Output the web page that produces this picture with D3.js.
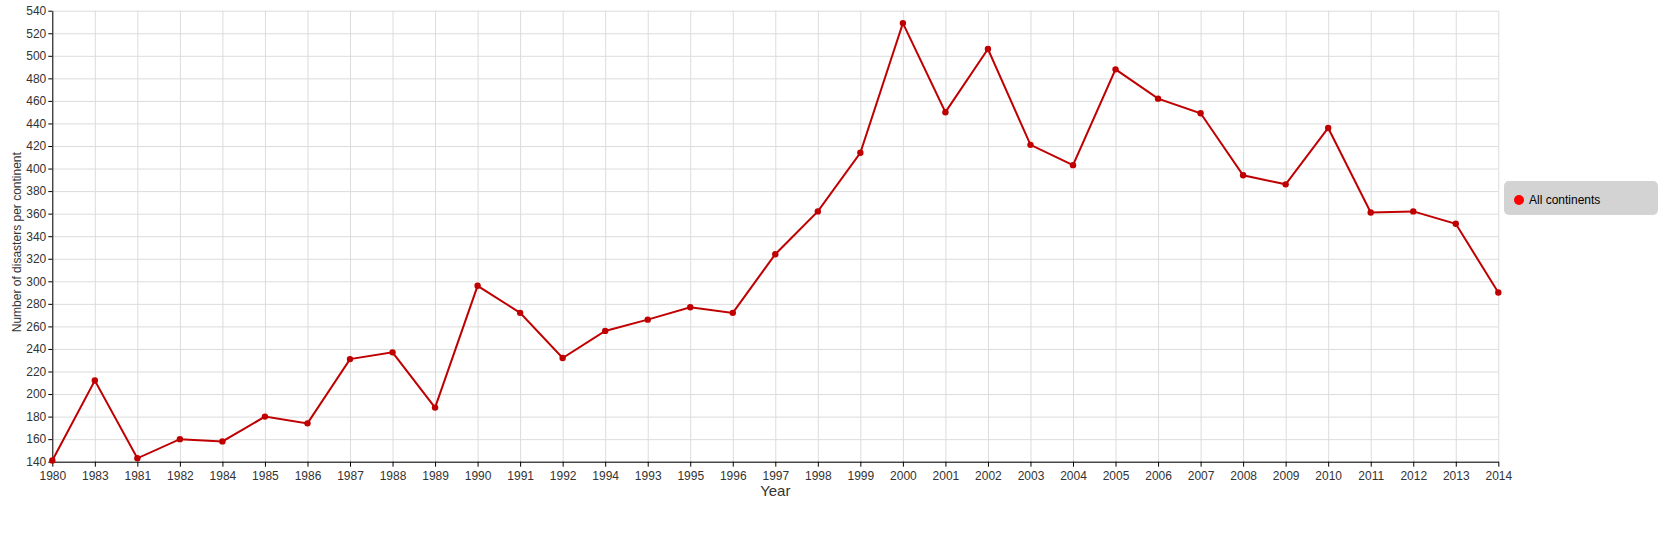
<!DOCTYPE html>
<html>
<head>
<meta charset="utf-8">
<script src="https://cdn.jsdelivr.net/npm/d3@7"></script>
<style>
  body { margin: 0; background: #fff; font-family: "Liberation Sans", Arial, sans-serif; }
  .grid line { stroke: #dcdcdc; stroke-width: 1; }
  .grid path { stroke: none; }
  .axis text { fill: #333; font-size: 12px; }
</style>
</head>
<body>
<div class="graph-pane"></div>
<script>
// years as they appear along the axis (order kept as in source data)
var years = ["1980","1983","1981","1982","1984","1985","1986","1987","1988","1989",
  "1990","1991","1992","1994","1993","1995","1996","1997","1998","1999",
  "2000","2001","2002","2003","2004","2005","2006","2007","2008","2009",
  "2010","2011","2012","2013","2014"];
var disasters = [141,212,143,160,158,180,174,231,237,188,
  296,272,232,256,266,277,272,324,362,414,
  529,450,506,421,403,488,462,449,394,386,
  436,361,362,351,290];
var yTicks = d3.range(140, 541, 20);
var seriesName = "All continents";

var width = 1674, height = 551;
var margin = {top: 10.7, left: 52.3};
var plotW = 1446, plotH = 451;

var svg = d3.select('.graph-pane')
  .append('svg')
  .attr('class', 'viewport')
  .attr('width', width)
  .attr('height', height);

var g = svg.append('g')
  .attr('transform', 'translate(' + margin.left + ',' + margin.top + ')');

var xScale = d3.scalePoint().domain(years).range([0, plotW]);
var yScale = d3.scaleLinear().domain([140, 540]).range([plotH, 0]);

// grid
g.append('g')
  .attr('class', 'grid')
  .attr('transform', 'translate(0,' + plotH + ')')
  .call(d3.axisBottom(xScale).tickSize(-plotH).tickFormat(''));
g.append('g')
  .attr('class', 'grid')
  .call(d3.axisLeft(yScale).tickValues(yTicks).tickSize(-plotW).tickFormat(''));

// axes
g.append('g')
  .attr('class', 'axis')
  .attr('transform', 'translate(0,' + plotH + ')')
  .call(d3.axisBottom(xScale).tickSize(5).tickPadding(5).tickSizeOuter(0));
g.append('g')
  .attr('class', 'axis')
  .call(d3.axisLeft(yScale).tickValues(yTicks).tickSize(4).tickPadding(2).tickSizeOuter(0));
g.selectAll('.axis path, .axis line').style('stroke', '#000');

// axis titles
svg.append('text')
  .attr('x', margin.left + plotW / 2)
  .attr('y', margin.top + plotH + 34)
  .attr('text-anchor', 'middle')
  .style('font-size', '15px')
  .style('fill', '#333')
  .text('Year');
svg.append('text')
  .attr('transform', 'translate(21,' + (margin.top + plotH / 2 + 6) + ') rotate(-90)')
  .attr('text-anchor', 'middle')
  .style('font-size', '12px')
  .style('fill', '#333')
  .text('Number of disasters per continent');

// line + points
var line = d3.line()
  .x(function(d, i) { return xScale(years[i]); })
  .y(function(d) { return yScale(d); });

g.append('path')
  .datum(disasters)
  .attr('d', line)
  .style('fill', 'none')
  .style('stroke', '#c00000')
  .style('stroke-width', 2);

g.append('g').selectAll('circle')
  .data(disasters)
  .enter().append('circle')
  .attr('cx', function(d, i) { return xScale(years[i]); })
  .attr('cy', function(d) { return yScale(d); })
  .attr('r', 3.2)
  .style('fill', '#c00000');

// legend
var legend = svg.append('g').attr('transform', 'translate(1504,181)');
legend.append('rect')
  .attr('width', 154)
  .attr('height', 34)
  .attr('rx', 5)
  .attr('ry', 5)
  .style('fill', '#d3d3d3');
legend.append('circle')
  .attr('cx', 15)
  .attr('cy', 19)
  .attr('r', 5)
  .style('fill', '#ff0000');
legend.append('text')
  .attr('x', 25)
  .attr('y', 23)
  .style('font-size', '12px')
  .style('fill', '#000')
  .text(seriesName);
</script>
</body>
</html>
